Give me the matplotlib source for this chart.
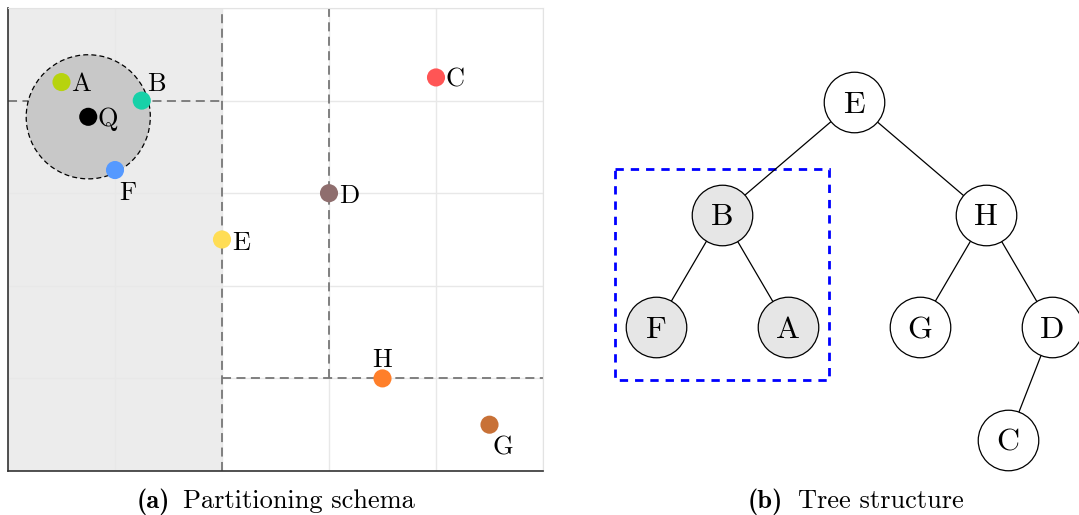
import numpy as np
import matplotlib.pyplot as plt
from matplotlib.patches import Ellipse, Rectangle

plt.rcParams['font.family'] = 'cmr10'
plt.rcParams['axes.formatter.use_mathtext'] = True

# points of the 2-d partition
names = ['A', 'B', 'C', 'D', 'E', 'F', 'G', 'H', 'Q']
xs = [1.0, 2.5, 8.0, 6.0, 4.0, 2.0, 9.0, 7.0, 1.5]
ys = [8.4, 8.0, 8.5, 6.0, 5.0, 6.5, 1.0, 2.0, 7.65]
colors = ['#b7d30e', '#17d1a8', '#ff5555', '#8f6e6e', '#ffdd55',
          '#5599ff', '#c87137', '#ff7f2a', '#000000']
# label offsets in points (dx, dy) and alignment
offsets = {'A': (7, 0, 'left', 'center_baseline'),
           'B': (4, 7, 'left', 'baseline'),
           'C': (7, 0, 'left', 'center_baseline'),
           'D': (7, 0, 'left', 'center_baseline'),
           'E': (7, -1, 'left', 'center_baseline'),
           'F': (3, -8, 'left', 'top'),
           'G': (2, -8, 'left', 'top'),
           'H': (0, 8, 'center', 'baseline'),
           'Q': (7, 0, 'left', 'center_baseline')}

# splitting lines: (x0, x1, y0, y1)
splits = [(4, 4, 0, 10), (0, 4, 8, 8), (6, 6, 2, 10), (4, 10, 2, 2)]
query_radius = 1.16  # in x units

# tree: node -> children (None for a missing child)
tree = {'E': ['B', 'H'], 'B': ['F', 'A'], 'H': ['G', 'D'], 'D': ['C', None]}
leaves = ['F', 'A', 'G', 'D']
highlight = ['B', 'F', 'A']

fig = plt.figure(figsize=(10.79, 5.15), dpi=100)
W, H = 1079, 515

# ---- (a) partitioning schema ----
ax = fig.add_axes([8 / W, (H - 471) / H, 535 / W, 463 / H])
ax.set_xlim(0, 10)
ax.set_ylim(0, 10)
ax.set_xticks(np.arange(0, 11, 2))
ax.set_yticks(np.arange(0, 11, 2))
ax.tick_params(length=0, labelbottom=False, labelleft=False)
ax.grid(True, color='#e8e8e8', lw=1)
ax.set_axisbelow(True)
for s in ['top', 'right']:
    ax.spines[s].set_color('#e3e3e3')
for s in ['left', 'bottom']:
    ax.spines[s].set_color('#333333')
    ax.spines[s].set_linewidth(1.2)

ax.axvspan(0, 4, color='#ececec', zorder=0.5, lw=0)
for x0, x1, y0, y1 in splits:
    ax.plot([x0, x1], [y0, y1], ls=(0, (5, 3)), color='#777777', lw=1.3, zorder=1)

# query ball, round on screen
bb = ax.get_position()
sx = bb.width * W / 10
sy = bb.height * H / 10
qx, qy = xs[-1], ys[-1]
ax.add_patch(Ellipse((qx, qy), 2 * query_radius, 2 * query_radius * sx / sy,
                     facecolor='#c8c8c8', edgecolor='black', ls=(0, (4, 2.5)),
                     lw=0.9, zorder=1.5))

ax.scatter(xs, ys, s=170, c=colors, zorder=3, linewidths=0)
for n, x, y in zip(names, xs, ys):
    dx, dy, ha, va = offsets[n]
    ax.annotate(n, (x, y), xytext=(dx, dy), textcoords='offset points',
                ha=ha, va=va, fontsize=19, zorder=4)

# ---- (b) tree structure ----
depth = {'E': 0}
for p, ch in tree.items():
    for c in ch:
        if c is not None:
            depth[c] = depth[p] + 1
pos = {n: float(i) for i, n in enumerate(leaves)}


def place(n):
    if n in tree:
        kids = [c for c in tree[n] if c is not None]
        for c in kids:
            place(c)
        if n not in pos:
            pos[n] = np.mean([pos[c] for c in kids])
        if len(kids) == 1:
            pos[kids[0]] = pos[n] + (-1 / 3 if tree[n][0] else 1 / 3)


place('E')

ax2 = fig.add_axes([600 / W, 0, 479 / W, 1])
ax2.set_xlim((600 - 656) / 132, (1079 - 656) / 132)
ax2.set_ylim((515 - 102) / 112.7, (0 - 102) / 112.7)
ax2.axis('off')

for p, ch in tree.items():
    for c in ch:
        if c is not None:
            ax2.plot([pos[p], pos[c]], [depth[p], depth[c]], color='black',
                     lw=0.9, zorder=1)
for n in pos:
    fc = '#e6e6e6' if n in highlight else 'white'
    ax2.scatter([pos[n]], [depth[n]], s=1900, facecolor=fc, edgecolor='black',
                linewidths=0.9, zorder=2, clip_on=False)
    ax2.text(pos[n], depth[n], n, ha='center', va='center_baseline',
             fontsize=23, zorder=3)

# box around the subtree inside the query ball
hx = [pos[n] for n in highlight]
hy = [depth[n] for n in highlight]
padx, pady_top, pady_bot = 41 / 132, 46 / 112.7, 53 / 112.7
ax2.add_patch(Rectangle((min(hx) - padx, min(hy) - pady_top),
                        max(hx) - min(hx) + 2 * padx,
                        max(hy) - min(hy) + pady_top + pady_bot,
                        fill=False, edgecolor='#0000ff', lw=2,
                        ls=(0, (3, 2.5)), zorder=0.5))

# captions
base = 1 - 508 / H
fig.text(137 / W, base, '(a)', fontfamily='cmb10', fontsize=19,
         ha='left', va='baseline')
fig.text(183 / W, base, 'Partitioning schema', fontsize=19,
         ha='left', va='baseline')
fig.text(748 / W, base, '(b)', fontfamily='cmb10', fontsize=19,
         ha='left', va='baseline')
fig.text(798 / W, base, 'Tree structure', fontsize=19,
         ha='left', va='baseline')

fig.savefig('out.png', dpi=100)
